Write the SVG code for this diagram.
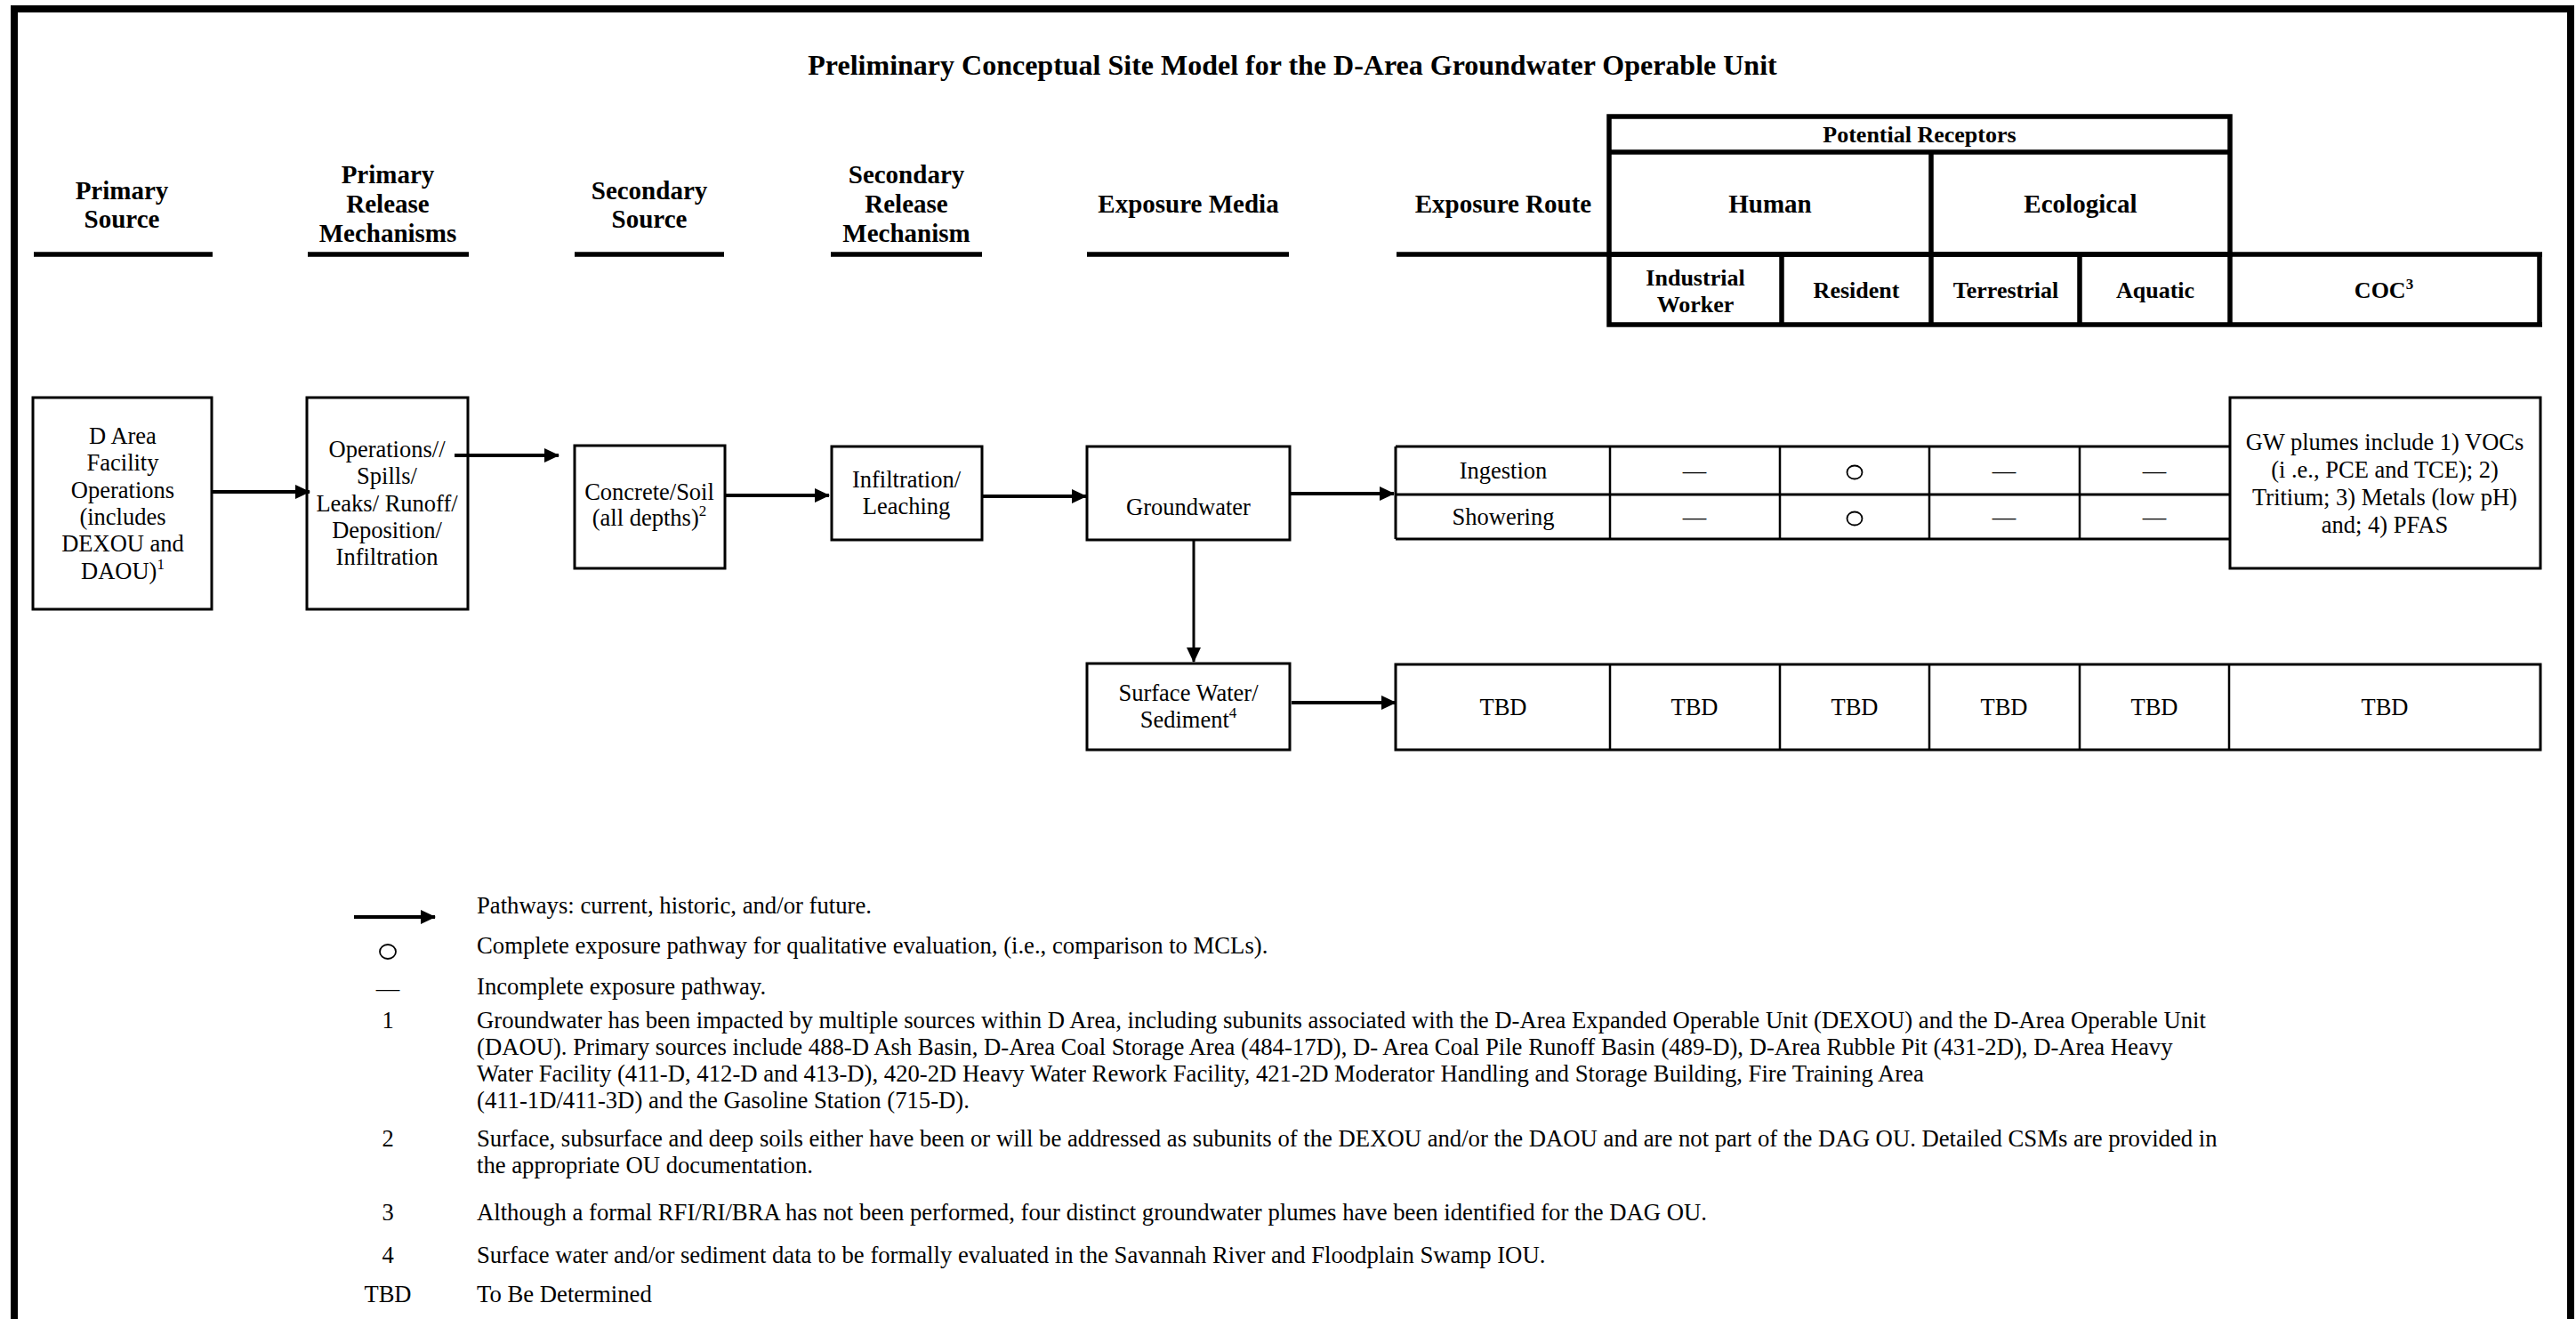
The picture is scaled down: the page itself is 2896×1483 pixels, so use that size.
<svg xmlns="http://www.w3.org/2000/svg" width="2896" height="1483" viewBox="0 0 2896 1483">
<defs>
<marker id="ah" markerUnits="userSpaceOnUse" markerWidth="17" markerHeight="16" refX="16" refY="8" orient="auto"><path d="M0,0 L17,8 L0,16 z" fill="#000"/></marker>
</defs>
<style>
text{font-family:"Liberation Serif","Times New Roman",serif;fill:#000}
.t{font-size:26.5px;text-anchor:middle}
.h{font-size:29px;font-weight:bold;text-anchor:middle}
.hs{font-size:26px;font-weight:bold;text-anchor:middle}
.l{font-size:26.7px}
.m{font-size:26.5px;text-anchor:middle}
.box{fill:none;stroke:#000;stroke-width:3}
.thick{stroke:#000;stroke-width:5.5;fill:none}
.mid{stroke:#000;stroke-width:3;fill:none}
.thin{stroke:#000;stroke-width:2.5;fill:none}
.conn{stroke:#000;stroke-width:4;fill:none;marker-end:url(#ah)}
.conn2{stroke:#000;stroke-width:3;fill:none;marker-end:url(#ah)}
.sym{fill:none;stroke:#000;stroke-width:1.8}
</style>
<rect width="2896" height="1483" fill="#fff"/>
<path d="M16,1483 V10 H2890 V1483" fill="none" stroke="#000" stroke-width="8"/>

<text x="1453" y="84" font-size="32" font-weight="bold" text-anchor="middle">Preliminary Conceptual Site Model for the D-Area Groundwater Operable Unit</text>

<g id="column-headers">
<text class="h" x="137" y="224">Primary</text><text class="h" x="137" y="256">Source</text>
<text class="h" x="436" y="206">Primary</text><text class="h" x="436" y="239">Release</text><text class="h" x="436" y="272">Mechanisms</text>
<text class="h" x="730" y="224">Secondary</text><text class="h" x="730" y="256">Source</text>
<text class="h" x="1019" y="206">Secondary</text><text class="h" x="1019" y="239">Release</text><text class="h" x="1019" y="272">Mechanism</text>
<text class="h" x="1336" y="239">Exposure Media</text>
<text class="h" x="1690" y="239">Exposure Route</text>
<path class="thick" d="M38,286 H239 M346,286 H527 M646,286 H814 M934,286 H1104 M1222,286 H1449 M1570,286 H2858"/>
</g>

<g id="receptor-header">
<rect class="thick" x="1809" y="131" width="698" height="155"/>
<path class="thick" d="M1809,171 H2507 M2171,171 V365 M1809,286 V365 H2858 M2003,286 V365 M2338,286 V365 M2507,286 V365 M2855,286 V365"/>
<text class="hs" x="2158" y="160">Potential Receptors</text>
<text class="h" x="1990" y="239">Human</text>
<text class="h" x="2339" y="239">Ecological</text>
<text class="hs" x="1906" y="321">Industrial</text><text class="hs" x="1906" y="351">Worker</text>
<text class="hs" x="2087" y="335">Resident</text>
<text class="hs" x="2255" y="335">Terrestrial</text>
<text class="hs" x="2423" y="335">Aquatic</text>
<text class="hs" x="2680" y="335">COC<tspan font-size="17" dy="-10">3</tspan></text>
</g>

<g id="primary-source">
<rect class="box" x="37" y="447" width="201" height="238"/>
<text class="t" x="138" y="499">D Area</text>
<text class="t" x="138" y="529">Facility</text>
<text class="t" x="138" y="560">Operations</text>
<text class="t" x="138" y="590">(includes</text>
<text class="t" x="138" y="620">DEXOU and</text>
<text class="t" x="138" y="651">DAOU)<tspan font-size="17" dy="-11">1</tspan></text>
</g>

<g id="primary-release">
<rect class="box" x="345" y="447" width="181" height="238"/>
<text class="t" x="435" y="514">Operations//</text>
<text class="t" x="435" y="544">Spills/</text>
<text class="t" x="435" y="575">Leaks/ Runoff/</text>
<text class="t" x="435" y="605">Deposition/</text>
<text class="t" x="435" y="635">Infiltration</text>
</g>

<g id="secondary-source">
<rect class="box" x="646" y="501" width="169" height="138"/>
<text class="t" x="730" y="562">Concrete/Soil</text>
<text class="t" x="730" y="591">(all depths)<tspan font-size="17" dy="-11">2</tspan></text>
</g>

<g id="secondary-release">
<rect class="box" x="935" y="502" width="169" height="105"/>
<text class="t" x="1019" y="548">Infiltration/</text>
<text class="t" x="1019" y="578">Leaching</text>
</g>

<g id="groundwater">
<rect class="box" x="1222" y="502" width="228" height="105"/>
<text class="t" x="1336" y="579">Groundwater</text>
</g>

<g id="surface-water">
<rect class="box" x="1222" y="746" width="228" height="97"/>
<text class="t" x="1336" y="788">Surface Water/</text>
<text class="t" x="1336" y="818">Sediment<tspan font-size="17" dy="-11">4</tspan></text>
</g>

<g id="groundwater-routes">
<path class="mid" d="M1569,502 H2506 M1569,556 H2506 M1569,606 H2506 M1569,502 V606"/>
<path class="thin" d="M1810,502 V606 M2001,502 V606 M2169,502 V606 M2338,502 V606"/>
<text class="t" x="1690" y="538">Ingestion</text>
<text class="t" x="1690" y="590">Showering</text>
<text class="m" x="1905" y="538">—</text>
<ellipse class="sym" cx="2085" cy="531" rx="8.5" ry="7.5"/>
<text class="m" x="2253" y="538">—</text>
<text class="m" x="2422" y="538">—</text>
<text class="m" x="1905" y="590">—</text>
<ellipse class="sym" cx="2085" cy="583" rx="8.5" ry="7.5"/>
<text class="m" x="2253" y="590">—</text>
<text class="m" x="2422" y="590">—</text>
</g>

<g id="coc-groundwater">
<rect class="mid" x="2507" y="447" width="349" height="192" stroke-width="3.5"/>
<text class="t" x="2681" y="506">GW plumes include 1) VOCs</text>
<text class="t" x="2681" y="537">(i .e., PCE and TCE); 2)</text>
<text class="t" x="2681" y="568">Tritium; 3) Metals (low pH)</text>
<text class="t" x="2681" y="599">and; 4) PFAS</text>
</g>

<g id="surface-water-routes">
<rect class="mid" x="1569" y="747" width="1287" height="96"/>
<path class="thin" d="M1810,747 V843 M2001,747 V843 M2169,747 V843 M2338,747 V843 M2506,747 V843"/>
<text class="t" x="1690" y="804">TBD</text>
<text class="t" x="1905" y="804">TBD</text>
<text class="t" x="2085" y="804">TBD</text>
<text class="t" x="2253" y="804">TBD</text>
<text class="t" x="2422" y="804">TBD</text>
<text class="t" x="2681" y="804">TBD</text>
</g>

<g id="connectors">
<path class="conn" d="M238,553 H348"/>
<path class="conn" d="M511,512 H628"/>
<path class="conn" d="M815,557 H932"/>
<path class="conn" d="M1104,558 H1221"/>
<path class="conn" d="M1450,555 H1567"/>
<path class="conn2" d="M1342,607 V744"/>
<path class="conn" d="M1452,790 H1569"/>
</g>

<g id="legend">
<path class="conn" d="M398,1031 H489"/>
<ellipse class="sym" cx="436" cy="1070" rx="9" ry="8"/>
<text class="m" x="436" y="1120">—</text>
<text class="m" x="436" y="1156">1</text>
<text class="m" x="436" y="1289">2</text>
<text class="m" x="436" y="1372">3</text>
<text class="m" x="436" y="1420">4</text>
<text class="m" x="436" y="1464">TBD</text>
<text class="l" x="536" y="1027">Pathways: current, historic, and/or future.</text>
<text class="l" x="536" y="1072">Complete exposure pathway for qualitative evaluation, (i.e., comparison to MCLs).</text>
<text class="l" x="536" y="1118">Incomplete exposure pathway.</text>
<text class="l" x="536" y="1156">Groundwater has been impacted by multiple sources within D Area, including subunits associated with the D-Area Expanded Operable Unit (DEXOU) and the D-Area Operable Unit</text>
<text class="l" x="536" y="1186">(DAOU). Primary sources include 488-D Ash Basin, D-Area Coal Storage Area (484-17D), D- Area Coal Pile Runoff Basin (489-D), D-Area Rubble Pit (431-2D), D-Area Heavy</text>
<text class="l" x="536" y="1216">Water Facility (411-D, 412-D and 413-D), 420-2D Heavy Water Rework Facility, 421-2D Moderator Handling and Storage Building, Fire Training Area</text>
<text class="l" x="536" y="1246">(411-1D/411-3D) and the Gasoline Station (715-D).</text>
<text class="l" x="536" y="1289">Surface, subsurface and deep soils either have been or will be addressed as subunits of the DEXOU and/or the DAOU and are not part of the DAG OU. Detailed CSMs are provided in</text>
<text class="l" x="536" y="1319">the appropriate OU documentation.</text>
<text class="l" x="536" y="1372">Although a formal RFI/RI/BRA has not been performed, four distinct groundwater plumes have been identified for the DAG OU.</text>
<text class="l" x="536" y="1420">Surface water and/or sediment data to be formally evaluated in the Savannah River and Floodplain Swamp IOU.</text>
<text class="l" x="536" y="1464">To Be Determined</text>
</g>
</svg>
